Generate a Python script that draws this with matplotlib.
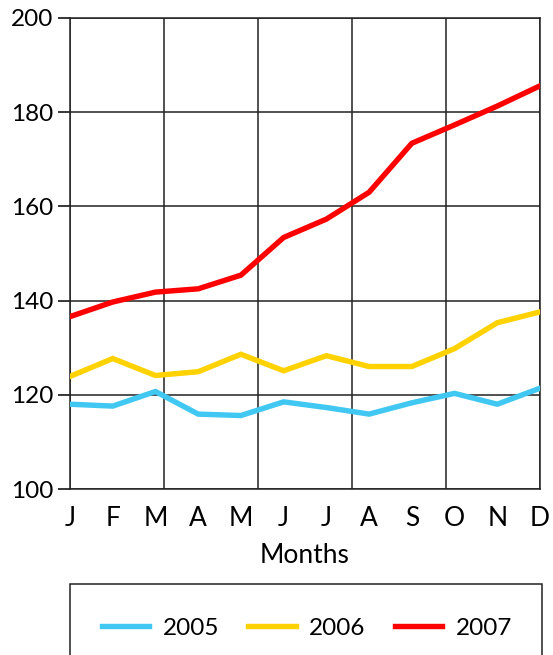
import numpy as np
import matplotlib
matplotlib.use("Agg")
import matplotlib.pyplot as plt
from matplotlib.patches import Rectangle

plt.rcParams['font.family'] = ['Lato', 'DejaVu Sans']

# 数据
months = ['J', 'F', 'M', 'A', 'M', 'J', 'J', 'A', 'S', 'O', 'N', 'D']
years = ['2005', '2006', '2007']
v2005 = [118.0, 117.6, 120.7, 115.9, 115.6, 118.5, 117.3, 115.9, 118.3, 120.3, 118.0, 121.4]
v2006 = [123.9, 127.7, 124.1, 124.9, 128.6, 125.1, 128.3, 126.0, 126.0, 129.8, 135.3, 137.6]
v2007 = [136.6, 139.7, 141.8, 142.5, 145.4, 153.4, 157.3, 163.0, 173.4, 177.3, 181.3, 185.6]
colors = ['#40C8F2', '#FFD200', '#FF0000']

fig = plt.figure(figsize=(5.53, 6.55), dpi=100)
ax = fig.add_axes([70 / 553, 1 - 489 / 655, 470 / 553, 471 / 655])

x = np.arange(len(months))
lines = []
for vals, c, lab in zip([v2005, v2006, v2007], colors, years):
    ln, = ax.plot(x, vals, color=c, lw=3.9, label=lab, solid_joinstyle='miter', zorder=3)
    lines.append(ln)

ax.set_xlim(0, 11)
ax.set_ylim(100, 200)

# 网格：竖线五等分，横线每20
ax.xaxis.remove_overlapping_locs = False
ax.set_xticks(np.linspace(0, 11, 6))
ax.set_xticklabels([])
ax.tick_params(axis='x', which='major', length=0)
ax.set_xticks(x, minor=True)
ax.set_xticklabels(months, minor=True, fontsize=19)
ax.tick_params(axis='x', which='minor', length=0, pad=12)

ax.set_yticks(np.arange(100, 201, 20))
ax.tick_params(axis='y', length=9, width=1.1, pad=3, labelsize=17.5, direction='out')
ax.grid(True, which='major', color='#222222', lw=1.1)
ax.set_axisbelow(True)
for s in ax.spines.values():
    s.set_color('#222222')
    s.set_linewidth(1.1)

ax.set_xlabel('Months', fontsize=19, labelpad=9)

# 图例框（底边超出画面）
rect = Rectangle((70 / 553, -0.1), 472 / 553, 0.1 + 1 - 584 / 655,
                 transform=fig.transFigure, fill=False, ec='#222222', lw=1.1)
fig.patches.append(rect)
fig.legend(handles=lines, labels=years, loc='center', ncol=3, frameon=False,
           bbox_to_anchor=(307 / 553, 1 - 628 / 655), fontsize=17.5,
           handlelength=1.95, handletextpad=0.55, columnspacing=1.2)

plt.savefig('out.png', dpi=100)
